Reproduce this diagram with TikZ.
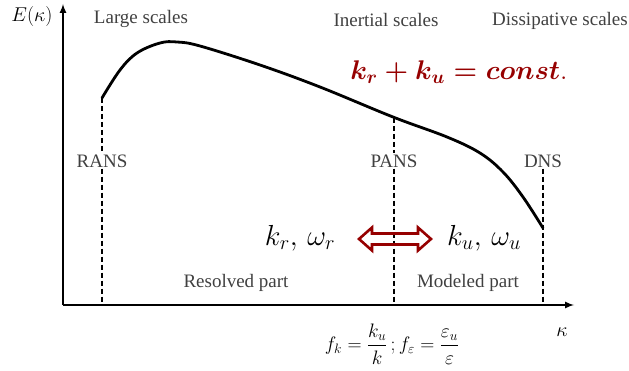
\RequirePackage{fix-cm}
\documentclass[tikz,border=0pt]{standalone}
\usepackage{amsmath,amssymb}
\usepackage{fontspec}
\setmainfont{Liberation Serif}
\usepackage{tikz}
\usepackage{xcolor}
\definecolor{darkred}{RGB}{150,0,0}
\definecolor{txtgray}{RGB}{64,64,64}
\tikzset{
  scalelbl/.style={text=txtgray,font=\fontsize{19}{22}\selectfont,inner sep=1pt},
  cutline/.style={dashed,dash pattern=on 5pt off 3pt,line width=1.2pt},
  axisline/.style={-latex,line width=2pt}
}

\begin{document}
\begin{tikzpicture}[x=1pt,y=1pt]
  \useasboundingbox (0,0) rectangle (629,370);
  % axes
  \coordinate (O) at (63,65);
  \coordinate (ytip) at (63,366);
  \coordinate (xtip) at (574,65);
  \draw[axisline] (O) -- (ytip);
  \draw[axisline] (O) -- (xtip);
  \node (Elbl) at (32,353) {\fontsize{20}{23}\selectfont $E(\kappa)$};
  \node (klbl) at (562,38) {\fontsize{20}{23}\selectfont $\kappa$};
  % energy spectrum
  \draw[line width=2.8pt,line cap=round] plot[smooth,tension=0.6] coordinates {
    (102,272) (120,300) (137,317) (160,327) (177,328) (200,324)
    (260,305) (320,283) (393,253) (447,233) (480,217) (503,198)
    (523,173) (543,142)};
  \coordinate (rtop) at (102,272);
  \coordinate (ptop) at (394,252);
  % scale labels
  \node[scalelbl] (large) at (141,351) {Large scales};
  \node[scalelbl] (inert) at (386,350) {Inertial scales};
  \node[scalelbl] (dissip) at (560,349) {Dissipative scales};
  % model cuts
  \node[scalelbl] (rans) at (102,209) {RANS};
  \node[scalelbl] (pans) at (394,209) {PANS};
  \node[scalelbl] (dns) at (543,209) {DNS};
  \draw[cutline] (rtop) -- (rans.north);
  \draw[cutline] (rans.south) -- (rans.south |- O);
  \draw[cutline] (ptop) -- (pans.north);
  \draw[cutline] (pans.south) -- (pans.south |- O);
  \draw[cutline] (dns.south) -- (dns.south |- O);
  % constraint
  \node[text=darkred] (const) at (459,298)
    {\fontsize{27}{31}\selectfont $\boldsymbol{k_r+k_u=const}.$};
  % resolved / modeled quantities
  \node (kr) at (300,132) {\fontsize{29}{32}\selectfont $k_r,\,\omega_r$};
  \node (ku) at (484,132) {\fontsize{29}{32}\selectfont $k_u,\,\omega_u$};
  \draw[darkred,line width=2.6pt,line join=miter]
    (359,131) -- (372,142.5) -- (372,136.5) -- (418,136.5) -- (418,142.5)
    -- (431,131) -- (418,119.5) -- (418,125.5) -- (372,125.5) -- (372,119.5) -- cycle;
  \node[scalelbl] (resolved) at (236,87) {Resolved part};
  \node[scalelbl] (modeled) at (468,87) {Modeled part};
  % ratios
  \node (ratio) at (392,26)
    {\fontsize{19.5}{23}\selectfont $f_k=\dfrac{k_u}{k}\,;f_\varepsilon=\dfrac{\varepsilon_u}{\varepsilon}$};
\end{tikzpicture}
\end{document}
